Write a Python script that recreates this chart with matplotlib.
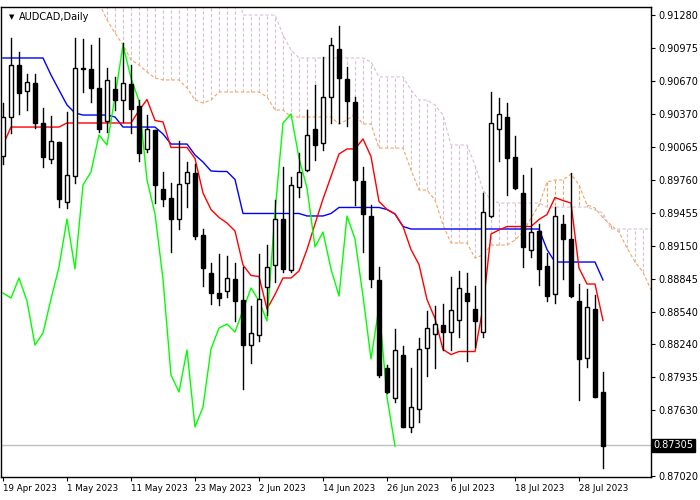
import matplotlib
matplotlib.use("Agg")
import matplotlib.pyplot as plt
import numpy as np

# daily AUDCAD candles, prices in 1e-5 units
opens = [89978, 90338, 90818, 90578, 90652, 90282, 89950, 90107, 89553, 89793,
         90791, 90781, 90606, 90301, 90597, 90495, 90643, 90440, 90042, 90218,
         89673, 89589, 89395, 89728, 89820, 89248, 88896, 88712, 88730, 88841,
         88647, 88231, 88324, 88767, 88970, 89395, 88924, 89691, 89848, 90227,
         90098, 90523, 90966, 90689, 90477, 89747, 89423, 88832, 88019, 87741,
         88139, 87474, 87640, 88203, 88333, 88416, 88351, 88462, 88712, 88564,
         88351, 89423, 90227, 90338, 89968, 89636, 89109, 89285, 88961, 88703,
         89349, 89211, 88638, 88111, 88564, 87797]
highs = [90467, 91068, 90939, 90735, 90735, 90421, 90347, 90107, 90384, 91068,
         91059, 91003, 91068, 90791, 90708, 91022, 90818, 90495, 90356, 90218,
         89830, 89728, 90116, 89922, 89904, 89303, 88989, 89072, 89054, 88989,
         88952, 88592, 89072, 89155, 89571, 89876, 89784, 90005, 90403, 90634,
         90892, 91068, 91179, 90800, 90523, 89876, 89525, 88952, 88046, 88379,
         88222, 88019, 88296, 88545, 88592, 88610, 88860, 88915, 88896, 88776,
         89636, 90569, 90513, 90467, 90162, 89802, 89867, 89349, 89081, 89506,
         89432, 89820, 88795, 88749, 88693, 87982]
lows = [89904, 90190, 90366, 90403, 90236, 89876, 89913, 89506, 89497, 89728,
        90569, 90477, 90199, 90199, 90403, 90292, 90190, 89931, 90015, 89543,
        89516, 89091, 89303, 89506, 89211, 88776, 88610, 88601, 88675, 88453,
        87825, 88065, 88268, 88508, 88813, 88906, 88906, 89599, 89839, 89941,
        90033, 90282, 90282, 90255, 89525, 89091, 88767, 87936, 87788, 87705,
        87474, 87427, 87520, 87945, 88019, 88185, 88185, 88305, 88083, 88213,
        88305, 89414, 89931, 89617, 89673, 88952, 89044, 88786, 88638, 88619,
        88841, 88675, 87723, 88028, 87751, 87095]
closes = [90338, 90818, 90560, 90661, 90282, 89968, 90116, 89580, 89802, 90791,
          90781, 90606, 90227, 90680, 90495, 90652, 90412, 90005, 90227, 89710,
          89580, 89395, 89719, 89830, 89238, 88943, 88712, 88665, 88850, 88638,
          88231, 88342, 88656, 88952, 89395, 88933, 89710, 89830, 90172, 90079,
          90523, 91003, 90698, 90486, 89756, 89442, 88841, 87954, 87797, 88185,
          87474, 87658, 88194, 88388, 88425, 88351, 88555, 88758, 88638, 88453,
          89460, 90282, 90366, 89959, 89682, 89137, 89275, 88933, 88684, 89423,
          89211, 88684, 88102, 88582, 87751, 87298]

# indicator values before enough history is on screen
tenkan_head = [90079, 90245, 90245, 90245, 90245, 90245, 90245, 90245]
kijun_head = [90883, 90883, 90883, 90883, 90883, 90883, 90726, 90587, 90449, 90375,
              90356, 90356, 90356, 90356, 90338, 90245, 90245, 90245, 90245, 90245,
              90181, 90088, 90088, 90088, 89987]

span_a = [91600] * 12 + [91391, 91234, 91114, 91003, 90865, 90818, 90754, 90698,
          90680, 90680, 90680, 90606, 90495, 90467, 90495, 90569, 90569, 90569,
          90569, 90569, 90569, 90523, 90403, 90403, 90338, 90338, 90338, 90338,
          90338, 90338, 90273, 90310, 90366, 90273, 90273, 90051, 90051, 90051,
          90051, 89848, 89663, 89663, 89571, 89340, 89174, 89174, 89174, 89035,
          89063, 89155, 89155, 89155, 89201, 89275, 89405, 89525, 89737, 89756,
          89756, 89811, 89710, 89525, 89497, 89405, 89340, 89275, 89127, 88998,
          88906, 88740]
span_b = [91600] * 30 + [91280, 91280, 91280, 91280, 91280, 91096, 90957,
          90883, 90883, 90883, 90883, 90883, 90883, 90883, 90883, 90883, 90846,
          90708, 90708, 90708, 90708, 90587, 90495, 90495, 90449, 90356, 90079,
          90079, 90079, 89894, 89663, 89571, 89543, 89543, 89543, 89543, 89543,
          89543, 89506, 89506, 89506, 89506, 89506, 89506, 89479, 89451, 89303,
          89303, 89303, 89303, 89303, 89303]

date_idx = [0, 8, 16, 24, 32, 40, 48, 56, 64, 72]
date_labels = ["19 Apr 2023", "1 May 2023", "11 May 2023", "23 May 2023", "2 Jun 2023",
               "14 Jun 2023", "26 Jun 2023", "6 Jul 2023", "18 Jul 2023", "28 Jul 2023"]
price_ticks = [0.91280, 0.90975, 0.90670, 0.90370, 0.90065, 0.89760, 0.89455,
               0.89150, 0.88845, 0.88540, 0.88240, 0.87935, 0.87630, 0.87020]
last_price = 0.87305

o = np.array(opens) / 1e5
h = np.array(highs) / 1e5
l = np.array(lows) / 1e5
c = np.array(closes) / 1e5
n = len(c)
x = np.arange(n)

tenkan = np.array([(h[i - 8:i + 1].max() + l[i - 8:i + 1].min()) / 2 if i >= 8
                   else tenkan_head[i] / 1e5 for i in range(n)])
kijun = np.array([(h[i - 25:i + 1].max() + l[i - 25:i + 1].min()) / 2 if i >= 25
                  else kijun_head[i] / 1e5 for i in range(n)])
chikou = c[26:]
sa = np.array(span_a) / 1e5
sb = np.array(span_b) / 1e5
xs = np.arange(len(sa))

fig = plt.figure(figsize=(7, 5), dpi=100)
ax = fig.add_axes([1 / 700, 23 / 500, 650 / 700, 470 / 500])

# cloud hatching
for j in xs:
    col = "#D8BFD8" if sb[j] >= sa[j] else "#F4A460"
    ax.plot([j, j], [sa[j], sb[j]], color=col, lw=0.8, ls=(0, (3, 2)), zorder=1)
ax.plot(xs, sa, color="#F4A460", lw=0.8, ls=(0, (3, 2)), zorder=1)
ax.plot(xs, sb, color="#D8BFD8", lw=0.8, ls=(0, (3, 2)), zorder=1)

ax.axhline(last_price, color="#C0C0C0", lw=1, zorder=1)

ax.plot(x, kijun, color="blue", lw=1, zorder=2)
ax.plot(x, tenkan, color="red", lw=1, zorder=2)
ax.plot(np.arange(len(chikou)), chikou, color="#00FF00", lw=1, zorder=2)

bw = 0.55
for i in range(n):
    ax.plot([i, i], [l[i], h[i]], color="black", lw=1, zorder=3)
    lo, hi = min(o[i], c[i]), max(o[i], c[i])
    face = "white" if c[i] > o[i] else "black"
    ax.add_patch(plt.Rectangle((i - bw / 2, lo), bw, max(hi - lo, 0.00002),
                               facecolor=face, edgecolor="black", lw=1, zorder=4))

ax.set_xlim(-0.25, 81.0)
ax.set_ylim(0.87012, 0.91354)
ax.yaxis.tick_right()
ax.set_yticks(price_ticks)
ax.set_yticklabels([f"{p:.5f}" for p in price_ticks], fontsize=7)
ax.set_xticks(date_idx)
ax.set_xticklabels(date_labels, fontsize=6.3, ha="left")
ax.tick_params(direction="out", length=3, width=0.8, pad=2)
for s in ax.spines.values():
    s.set_linewidth(1)

ax.text(1.004, last_price, f"{last_price:.5f}", transform=ax.get_yaxis_transform(),
        fontsize=7, color="white", va="center", ha="left",
        bbox=dict(boxstyle="square,pad=0.15", fc="black", ec="black"))
ax.text(0.012, 0.985, "\u25bc", transform=ax.transAxes, fontsize=5, va="top")
ax.text(0.028, 0.99, "AUDCAD,Daily", transform=ax.transAxes, fontsize=7, va="top")

fig.savefig("out.png", dpi=100)
